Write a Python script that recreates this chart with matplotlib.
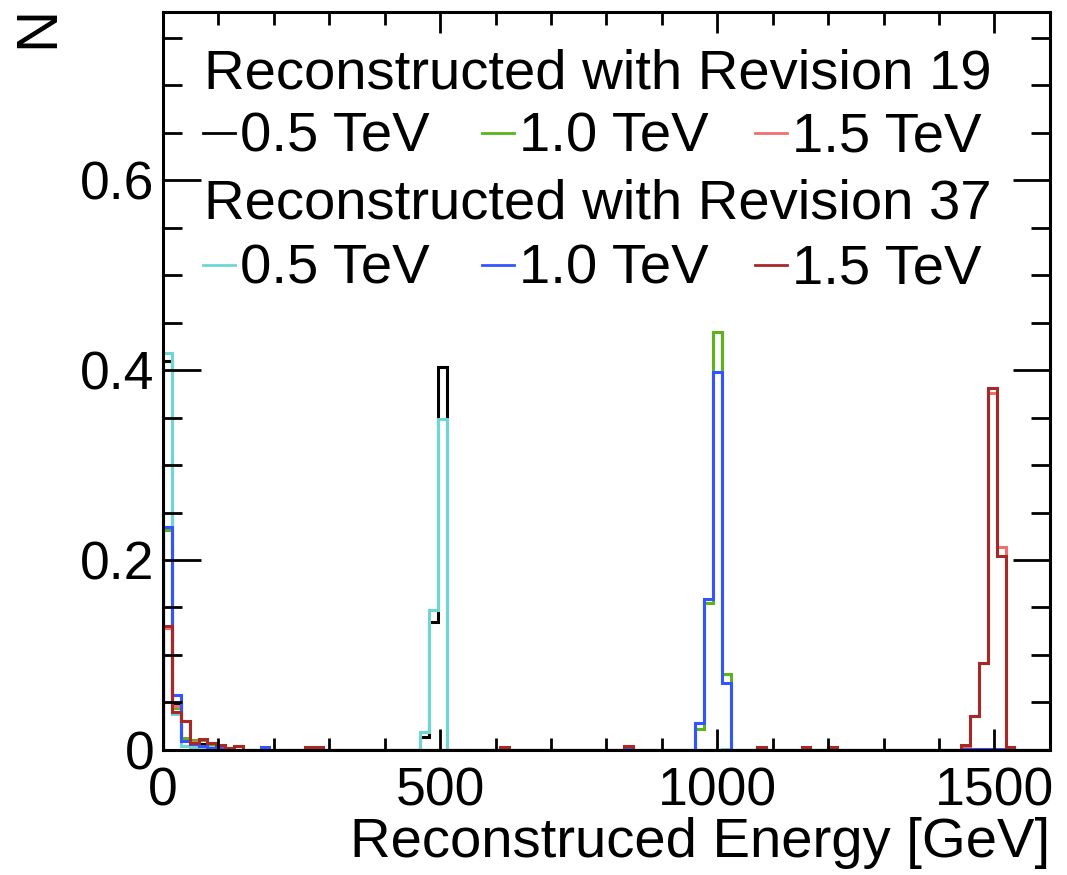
import matplotlib
matplotlib.use("Agg")
import matplotlib.pyplot as plt
import numpy as np
from matplotlib.lines import Line2D
from matplotlib.ticker import MultipleLocator

plt.rcParams.update({
    "font.family": ["Liberation Sans", "DejaVu Sans"],
    "font.size": 38,
})

# 100 bins of 16 GeV between 0 and 1600 GeV
bin_width = 16
n_bins = 100

# sparse histogram contents: lower bin edge [GeV] -> normalised entries
rev19_05_bins = [0, 16, 32, 48, 64, 80, 96, 464, 480, 496]
rev19_05_vals = [0.41, 0.048, 0.012, 0.008, 0.006, 0.004, 0.002, 0.014, 0.135, 0.4035]

rev19_10_bins = [0, 16, 32, 48, 64, 80, 96, 112, 960, 976, 992, 1008]
rev19_10_vals = [0.232, 0.044, 0.013, 0.011, 0.011, 0.005, 0.003, 0.002,
                 0.022, 0.155, 0.440, 0.080]

rev19_15_bins = [0, 16, 32, 48, 64, 80, 96, 112, 128, 256, 272, 608, 832,
                 1072, 1152, 1200, 1440, 1456, 1472, 1488, 1504, 1520]
rev19_15_vals = [0.128, 0.046, 0.031, 0.008, 0.012, 0.007, 0.004, 0.002, 0.004,
                 0.003, 0.003, 0.002, 0.004, 0.002, 0.002, 0.002, 0.004, 0.036,
                 0.092, 0.376, 0.214, 0.003]

rev37_05_bins = [0, 16, 32, 48, 64, 80, 464, 480, 496, 1008]
rev37_05_vals = [0.418, 0.038, 0.004, 0.003, 0.003, 0.003, 0.019, 0.147, 0.348, 0.001]

rev37_10_bins = [0, 16, 32, 48, 64, 80, 96, 176, 608, 832, 960, 976, 992, 1008,
                 1072, 1152, 1200, 1440, 1456, 1472, 1488, 1504]
rev37_10_vals = [0.235, 0.058, 0.009, 0.006, 0.004, 0.002, 0.002, 0.003, 0.001,
                 0.001, 0.028, 0.159, 0.3975, 0.071, 0.001, 0.001, 0.001, 0.001,
                 0.001, 0.001, 0.001, 0.001]

rev37_15_bins = [0, 16, 32, 48, 64, 80, 96, 112, 128, 256, 272, 608, 832,
                 1072, 1152, 1200, 1440, 1456, 1472, 1488, 1504, 1520]
rev37_15_vals = [0.130, 0.040, 0.031, 0.007, 0.012, 0.007, 0.005, 0.002, 0.004,
                 0.003, 0.003, 0.003, 0.004, 0.003, 0.003, 0.003, 0.005, 0.036,
                 0.092, 0.381, 0.204, 0.003]

labels = ["0.5 TeV", "1.0 TeV", "1.5 TeV"]
colors19 = ["black", "#5cb31a", "#f07070"]
colors37 = ["#6fd6d6", "#3355ff", "#a82828"]


def fill_hist(bins, vals):
    h = np.zeros(n_bins)
    for b, v in zip(bins, vals):
        h[b // bin_width] = v
    return h


edges = np.arange(n_bins + 1) * bin_width
rev19 = [fill_hist(rev19_05_bins, rev19_05_vals),
         fill_hist(rev19_10_bins, rev19_10_vals),
         fill_hist(rev19_15_bins, rev19_15_vals)]
rev37 = [fill_hist(rev37_05_bins, rev37_05_vals),
         fill_hist(rev37_10_bins, rev37_10_vals),
         fill_hist(rev37_15_bins, rev37_15_vals)]

fig = plt.figure(figsize=(10.67, 8.75), dpi=100)
ax = fig.add_axes([0.1528, 0.1429, 0.8312, 0.8434])

for h, c in zip(rev19 + rev37, colors19 + colors37):
    ax.stairs(h, edges, color=c, lw=2.2, baseline=0)

ax.set_xlim(0, 1600)
ax.set_ylim(0, 0.777)
for s in ax.spines.values():
    s.set_linewidth(2.2)

ax.xaxis.set_major_locator(MultipleLocator(500))
ax.xaxis.set_minor_locator(MultipleLocator(100))
ax.yaxis.set_minor_locator(MultipleLocator(0.05))
ax.set_yticks([0, 0.2, 0.4, 0.6])
ax.set_yticklabels(["0", "0.2", "0.4", "0.6"])
ax.tick_params(axis="both", which="both", direction="in", top=True, right=True,
               width=2.0, labelsize=38.5)
ax.tick_params(axis="x", which="major", length=15, pad=12)
ax.tick_params(axis="x", which="minor", length=9)
ax.tick_params(axis="y", which="major", length=27, pad=6)
ax.tick_params(axis="y", which="minor", length=14)

ax.set_xlabel("Reconstruced Energy [GeV]", fontsize=40.5, loc="right", labelpad=0)
fig.text(0.036, 0.969, "N", rotation=90, fontsize=42, ha="center", va="center")

# legend drawn as text rows inside the frame
def row_y(px):
    return (750 - px) / 738.0

def col_x(px):
    return (px - 163) / 887.0

leg_size = 40.5
ax.text(col_x(204), row_y(89), "Reconstructed with Revision 19",
        transform=ax.transAxes, fontsize=leg_size, va="baseline")
ax.text(col_x(204), row_y(219), "Reconstructed with Revision 37",
        transform=ax.transAxes, fontsize=leg_size, va="baseline")
dash_x = [203, 482, 755]
for row_px, cols in ((152, colors19), (284, colors37)):
    for x0, c, lab in zip(dash_x, cols, labels):
        ax.add_line(Line2D([col_x(x0), col_x(x0 + 32)],
                           [row_y(row_px - 19), row_y(row_px - 19)],
                           transform=ax.transAxes, color=c, lw=2))
        ax.text(col_x(x0 + 37), row_y(row_px), lab, transform=ax.transAxes,
                fontsize=leg_size, va="baseline")

fig.savefig("out.png", dpi=100)
